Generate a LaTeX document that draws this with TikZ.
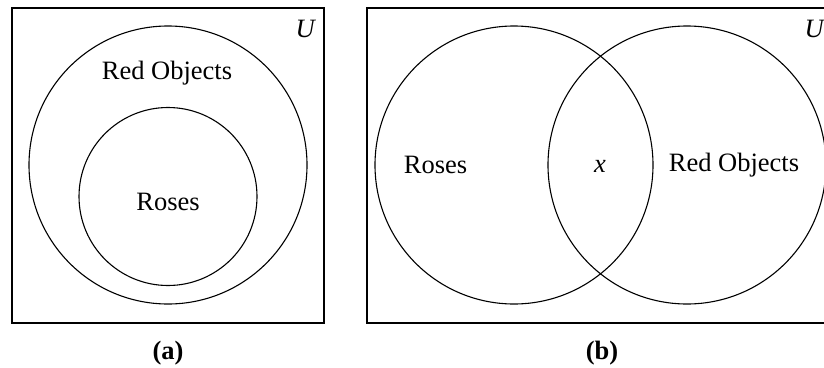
\documentclass[tikz,border=0pt]{standalone}
\usepackage{fontspec}
\setmainfont{Liberation Serif}
\begin{document}
\begin{tikzpicture}[x=1pt,y=-1pt,
  shape line/.style={draw=black,line width=1.1pt},
  lbl/.style={inner sep=0pt,font=\fontsize{26.5}{30}\selectfont},
  captxt/.style={inner sep=0pt,font=\fontsize{26.5}{30}\selectfont\bfseries}]
\useasboundingbox (0,0) rectangle (824,367);
\begin{scope}
\clip (0,0) rectangle (824,367);
% panel (a)
\draw[shape line] (12,8) rectangle (324,323);
\draw[shape line] (168,165) circle[radius=139];
\draw[shape line] (168,196.5) circle[radius=89];
\node[lbl] (ua) at (306,29) {\textit{U}};
\node[lbl] (redA) at (167,73) {Red Objects};
\node[lbl] (rosesA) at (168,202) {Roses};
\node[captxt] (capA) at (168,353) {(a)};
% panel (b)
\draw[shape line] (367,8) rectangle (832,323);
\draw[shape line] (514,165) circle[radius=139];
\draw[shape line] (687,165) circle[radius=139];
\node[lbl] (ub) at (815,29) {\textit{U}};
\node[lbl] (rosesB) at (435.5,165) {Roses};
\node[lbl] (xB) at (600,166) {\textit{x}};
\node[lbl] (redB) at (734,165) {Red Objects};
\node[captxt] (capB) at (602,353) {(b)};
\end{scope}
\end{tikzpicture}
\end{document}
